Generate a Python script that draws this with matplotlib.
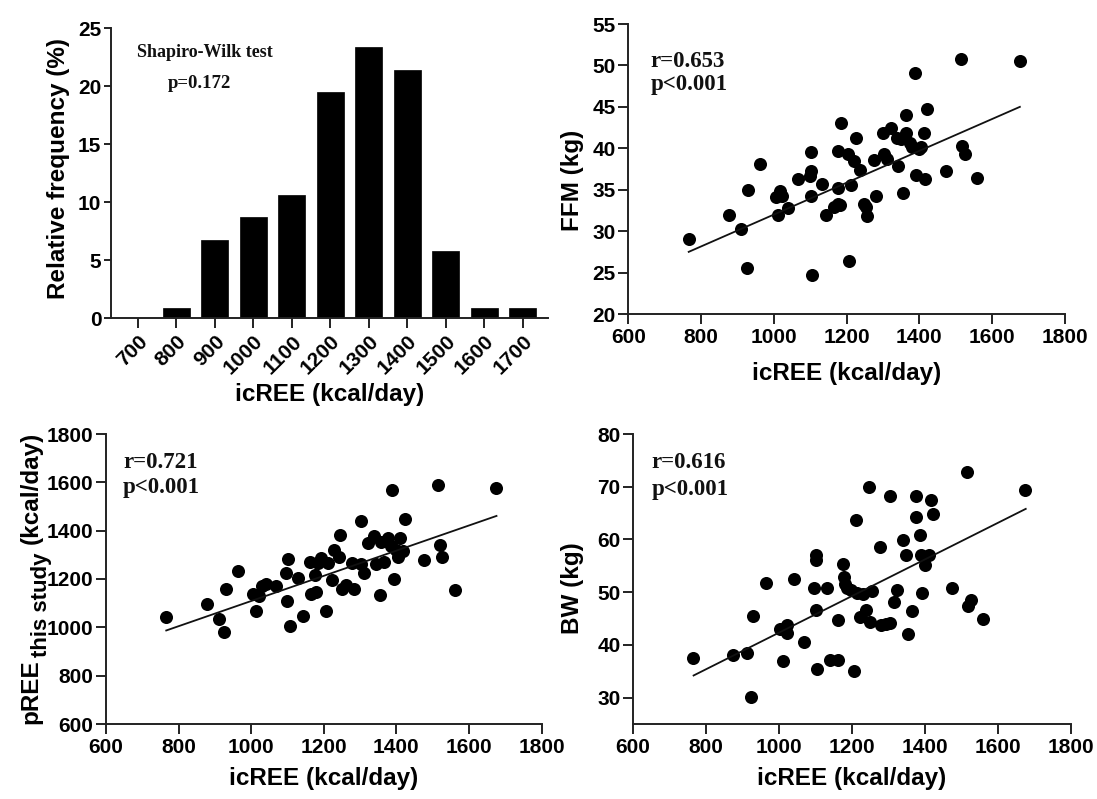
import matplotlib
matplotlib.use("Agg")
import matplotlib.pyplot as plt
import numpy as np

# ---------------- data ----------------
hist_labels = ["700", "800", "900", "1000", "1100", "1200", "1300", "1400", "1500", "1600", "1700"]
hist_freq = [0.0, 0.86, 6.73, 8.68, 10.62, 19.44, 23.34, 21.39, 5.76, 0.86, 0.86]

ffm_x = [766, 876, 911, 926, 929, 962, 1005, 1011, 1018, 1022, 1040, 1067, 1101, 1101, 1098, 1101,
         1106, 1132, 1144, 1165, 1175, 1175, 1175, 1182, 1184, 1203, 1206, 1213, 1221, 1227, 1237,
         1249, 1252, 1256, 1276, 1282, 1299, 1302, 1312, 1322, 1337, 1341, 1348, 1355, 1363, 1364,
         1374, 1379, 1388, 1390, 1398, 1404, 1412, 1415, 1420, 1472, 1515, 1517, 1524, 1559, 1676]
ffm_y = [29.1, 31.9, 30.2, 25.5, 35.0, 38.1, 34.1, 32.0, 34.9, 34.2, 32.8, 36.3, 39.5, 37.2, 36.7, 34.3,
         24.7, 35.7, 31.9, 32.9, 33.3, 35.2, 39.7, 33.1, 43.0, 39.3, 26.4, 35.6, 38.5, 41.3, 37.4,
         33.3, 32.9, 31.8, 38.6, 34.3, 41.9, 39.3, 38.7, 42.4, 41.2, 37.9, 41.1, 34.6, 44.0, 41.8,
         40.6, 40.2, 49.1, 36.8, 39.9, 40.1, 41.8, 36.3, 44.7, 37.3, 50.8, 40.3, 39.3, 36.4, 50.5]
ffm_fit_x = [766, 1676]
ffm_fit_y = [27.5, 45.0]

pree_x = [764, 877, 911, 924, 931, 964, 1005, 1013, 1022, 1030, 1042, 1068, 1097, 1102, 1100, 1106,
          1130, 1142, 1161, 1164, 1176, 1179, 1184, 1193, 1206, 1212, 1222, 1227, 1243, 1246, 1251,
          1261, 1278, 1283, 1304, 1304, 1312, 1323, 1338, 1343, 1354, 1357, 1367, 1378, 1384, 1388,
          1393, 1399, 1404, 1410, 1418, 1423, 1475, 1516, 1519, 1526, 1563, 1676]
pree_y = [1042, 1096, 1034, 979, 1158, 1235, 1137, 1068, 1128, 1172, 1180, 1173, 1224, 1283, 1111, 1004,
          1203, 1045, 1272, 1137, 1217, 1148, 1265, 1286, 1066, 1265, 1194, 1320, 1293, 1382, 1159,
          1176, 1265, 1159, 1440, 1263, 1224, 1351, 1378, 1263, 1134, 1355, 1272, 1369, 1337, 1569,
          1200, 1320, 1293, 1369, 1314, 1447, 1279, 1588, 1341, 1290, 1155, 1577]
pree_fit_x = [766, 1676]
pree_fit_y = [987, 1461]

bw_x = [765, 875, 911, 923, 928, 964, 1004, 1012, 1021, 1022, 1040, 1069, 1097, 1100, 1102, 1100,
        1105, 1131, 1141, 1163, 1161, 1175, 1177, 1180, 1187, 1198, 1206, 1212, 1215, 1222, 1230,
        1239, 1246, 1249, 1256, 1278, 1280, 1294, 1303, 1303, 1314, 1323, 1340, 1347, 1354, 1364,
        1376, 1376, 1386, 1390, 1393, 1399, 1412, 1417, 1421, 1474, 1514, 1517, 1525, 1560, 1674]
bw_y = [37.6, 38.1, 38.4, 30.2, 45.5, 51.8, 43.0, 36.9, 43.7, 42.3, 52.5, 40.6, 50.8, 57.0, 56.1, 46.6,
        35.4, 50.7, 37.2, 37.2, 44.7, 55.4, 52.9, 51.5, 50.7, 50.4, 35.1, 63.6, 49.9, 45.3, 49.6,
        46.6, 69.9, 44.4, 50.3, 58.5, 43.8, 43.9, 68.3, 44.1, 48.1, 50.5, 59.9, 57.0, 42.0, 46.4,
        68.3, 64.3, 60.8, 57.1, 49.9, 55.1, 57.0, 67.4, 64.9, 50.7, 72.7, 47.4, 48.6, 45.0, 69.4]
bw_fit_x = [766, 1676]
bw_fit_y = [34.2, 65.8]

# ---------------- style ----------------
plt.rcParams['font.family'] = ['Liberation Sans', 'DejaVu Sans']
plt.rcParams['font.weight'] = 'bold'

AX_COL = '#222222'
TICK_FS = 15
LABEL_FS = 17.5
ANN_FONT = ['Liberation Serif', 'DejaVu Serif']

fig = plt.figure(figsize=(10.97, 7.99), dpi=100)
W, H = 1097.0, 799.0


def make_ax(left, right, top, bottom):
    return fig.add_axes([left / W, 1 - bottom / H, (right - left) / W, (bottom - top) / H])


def style(ax, ytick_len=7):
    for s in ['top', 'right']:
        ax.spines[s].set_visible(False)
    for s in ['left', 'bottom']:
        ax.spines[s].set_linewidth(1.4)
        ax.spines[s].set_color(AX_COL)
    ax.tick_params(axis='x', direction='out', length=7, width=1.4, color=AX_COL,
                   labelsize=TICK_FS, pad=3)
    ax.tick_params(axis='y', direction='out', length=ytick_len, width=1.4, color=AX_COL,
                   labelsize=TICK_FS, pad=2)
    for lab in ax.get_xticklabels() + ax.get_yticklabels():
        lab.set_fontweight('bold')


def set_labels(ax, xlabel, ylabel, xl_y, yl_x, yl_y=0.5):
    ax.set_xlabel(xlabel, fontsize=LABEL_FS, fontweight='bold')
    ax.xaxis.label.set_va('center')
    ax.xaxis.set_label_coords(0.5, xl_y)
    if ylabel:
        ax.set_ylabel(ylabel, fontsize=LABEL_FS, fontweight='bold')
        ax.yaxis.label.set_va('center')
        ax.yaxis.set_label_coords(yl_x, yl_y)


def annotate(ax, x, y1, y2, t1, t2, fs=16.5, weight='bold'):
    ax.text(x, y1, t1, transform=ax.transAxes, ha='left', va='center',
            fontsize=fs, family=ANN_FONT, fontweight=weight, color='#111111')
    ax.text(x, y2, t2, transform=ax.transAxes, ha='left', va='center',
            fontsize=fs, family=ANN_FONT, fontweight=weight, color='#111111')


# ---------------- histogram ----------------
ax1 = make_ax(111, 548, 28, 318)
pos = np.arange(len(hist_labels))
ax1.bar(pos, hist_freq, width=0.7, color='black', edgecolor='black', linewidth=0.5)
ax1.set_xlim(-0.7, 10.66)
ax1.set_ylim(0, 25)
ax1.set_yticks([0, 5, 10, 15, 20, 25])
ax1.set_xticks(pos)
ax1.set_xticklabels(hist_labels)
style(ax1, ytick_len=5)
for lab in ax1.get_xticklabels():
    lab.set_rotation(45)
    lab.set_ha('right')
    lab.set_rotation_mode('anchor')
set_labels(ax1, 'icREE (kcal/day)', 'Relative frequency (%)', -76 / 290, -0.121, 0.517)
ax1.text(0.06, 0.917, 'Shapiro-Wilk test', transform=ax1.transAxes, ha='left', va='center',
         fontsize=13, family=ANN_FONT, fontweight='bold', color='#111111')
ax1.text(0.13, 0.81, 'p=0.172', transform=ax1.transAxes, ha='left', va='center',
         fontsize=13.5, family=ANN_FONT, fontweight='bold', color='#111111')

# ---------------- FFM ----------------
ax2 = make_ax(628.3, 1065, 24, 314)
ax2.plot(ffm_x, ffm_y, 'o', color='black', markersize=9.4, markeredgewidth=0)
ax2.plot(ffm_fit_x, ffm_fit_y, '-', color='#111111', linewidth=1.3)
ax2.set_xlim(600, 1800)
ax2.set_ylim(20, 55)
ax2.set_xticks([600, 800, 1000, 1200, 1400, 1600, 1800])
ax2.set_yticks([20, 25, 30, 35, 40, 45, 50, 55])
style(ax2)
set_labels(ax2, 'icREE (kcal/day)', 'FFM (kg)', -59 / 290, -0.127, 0.462)
annotate(ax2, 0.051, 0.872, 0.79, 'r=0.653', 'p<0.001')

# ---------------- pREE ----------------
ax3 = make_ax(106, 541.5, 434, 724)
ax3.plot(pree_x, pree_y, 'o', color='black', markersize=9.4, markeredgewidth=0)
ax3.plot(pree_fit_x, pree_fit_y, '-', color='#111111', linewidth=1.3)
ax3.set_xlim(600, 1800)
ax3.set_ylim(600, 1800)
ax3.set_xticks([600, 800, 1000, 1200, 1400, 1600, 1800])
ax3.set_yticks([600, 800, 1000, 1200, 1400, 1600, 1800])
style(ax3)
set_labels(ax3, 'icREE (kcal/day)', None, -54 / 290, None)
annotate(ax3, 0.039, 0.903, 0.817, 'r=0.721', 'p<0.001')

# composite y label: pREE + subscript "this study" + (kcal/day)
renderer = fig.canvas.get_renderer()
parts = [('pREE', 0.0, 17.5, 0), ('this study', 10.0, 16.0, 2), ('(kcal/day)', 0.0, 17.5, 8)]
texts = []
lengths = []
for s, dx, fs, gap in parts:
    t = fig.text(0, 0, s, rotation=90, rotation_mode='anchor', ha='left', va='center',
                 fontsize=fs, fontweight='bold')
    texts.append(t)
    lengths.append(t.get_window_extent(renderer).height)
total = sum(lengths) + sum(p[3] for p in parts)
center_y = 578.0
y = center_y + total / 2.0
for (s, dx, fs, gap), t, L in zip(parts, texts, lengths):
    y -= gap
    t.set_position(((31 + dx) / W, 1 - y / H))
    y -= L

# ---------------- BW ----------------
ax4 = make_ax(633, 1071, 434, 724)
ax4.plot(bw_x, bw_y, 'o', color='black', markersize=9.4, markeredgewidth=0)
ax4.plot(bw_fit_x, bw_fit_y, '-', color='#111111', linewidth=1.3)
ax4.set_xlim(600, 1800)
ax4.set_ylim(25, 80)
ax4.set_xticks([600, 800, 1000, 1200, 1400, 1600, 1800])
ax4.set_yticks([30, 40, 50, 60, 70, 80])
style(ax4)
set_labels(ax4, 'icREE (kcal/day)', 'BW (kg)', -54 / 290, -0.137, 0.469)
annotate(ax4, 0.043, 0.903, 0.81, 'r=0.616', 'p<0.001')

fig.savefig('out.png', dpi=100)
